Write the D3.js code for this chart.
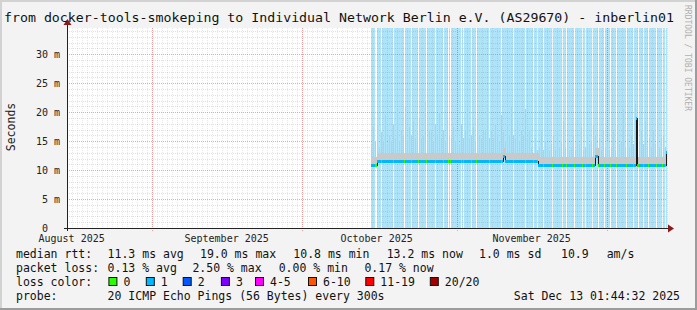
<!DOCTYPE html>
<html>
<head>
<meta charset="utf-8">
<script src="https://cdn.jsdelivr.net/npm/d3@7/dist/d3.min.js"></script>
<style>
  body { margin: 0; background: #f3f3f3; }
  svg text { font-family: "DejaVu Sans Mono", monospace; }
</style>
</head>
<body>
<svg id="chart" width="697" height="310"></svg>
<script>
const title = "from docker-tools-smokeping to Individual Network Berlin e.V. (AS29670) - inberlin01";
const graphStart = "2025-08-15T01:44:32Z";
const graphEnd = "2025-12-13T01:44:32Z";

// months: label sits in the middle of the month, red grid line on the 1st
const monthStarts = ["2025-08-01", "2025-09-01", "2025-10-01", "2025-11-01", "2025-12-01"];
const monthNames = ["August 2025", "September 2025", "October 2025", "November 2025", ""];

const yTicks = [0, 5, 10, 15, 20, 25, 30];
const yLabels = ["0\u00a0\u00a0", "5 m", "10 m", "15 m", "20 m", "25 m", "30 m"];
const yMax = 34.54;

// samples: one every 4.8 hours
const sampleStart = "2025-10-14T21:00:00Z";
const sampleHours = 4.8;
const sampleCount = 296;

// median rtt levels in ms: [first sample, last sample, value]
const medianRuns = [
  [0, 5, 10.8], [6, 131, 11.5], [132, 133, 12.4], [134, 166, 11.5],
  [167, 223, 10.9], [224, 226, 12.5], [227, 264, 10.9], [265, 265, 19.0],
  [266, 294, 10.9], [295, 295, 13.2]
];

// samples with 0 loss (the rest had 1/20 lost)
const zeroLoss = [4, 5, 10, 22, 33, 40, 47, 55, 64, 72, 77, 79, 90, 92, 100, 105, 118, 130, 142,
  154, 162, 166, 172, 181, 191, 195, 203, 211, 214, 221, 227, 233, 239, 245, 255, 262, 267, 272,
  277, 285, 291, 294];

// top of the smoke, ms, one value per two samples
const smokeTop = [
  14.5,17.5,15,18,14,16.5,15,19.5,14.5,16,
  15,18,15.5,20.5,15,17,16,21,15,17.5,
  16,18.5,15.5,17,19,15.5,16,22,15,17,
  16.5,15,18,16,20,15.5,17,15,18.5,16,
  15.5,17.5,15,16.5,14.5,18,15.5,17,20.5,15.5,
  16,17.5,15,19,16,15.5,17,16.5,21.5,15.5,
  17,15.5,18,16,15,19.5,16.5,15,18,16,
  21,16,15.5,18.5,15,17,16,20.5,15.5,17,
  14,13,15.5,13.5,14,16.5,13.5,15,14,13.5,
  14.5,16,13.5,17,14,15,18.5,14,15.5,13.5,
  14,16,13.5,15,14.5,17.5,13.5,14,16,14.5,
  15,18,16,14,15.5,13.5,17,14,15,13.5,
  14,16.5,13.5,18,14.5,15,20.5,14,15.5,14,
  16,14.5,21.5,14,15,17,14.5,18.5,14,15.5,
  14,17,14.5,19,14,15.5,16,14
];

const lossLabels = ["0", "1", "2", "3", "4-5", "6-10", "11-19", "20/20"];
const lossColors = ["#26ff00", "#00b8ff", "#0059ff", "#7e00ff", "#ff00ff", "#ff5500", "#ff0000", "#a10000"];

const statsRtt = ["11.3 ms avg", "19.0 ms max", "10.8 ms min", "13.2 ms now", "1.0 ms sd", "10.9", "am/s"];
const statsLoss = ["0.13 % avg", "2.50 % max", "0.00 % min", "0.17 % now"];
const probeText = "20 ICMP Echo Pings (56 Bytes) every 300s";
const stamp = "Sat Dec 13 01:44:32 2025";

const W = 697, H = 310;
const plotL = 67, plotR = 667, plotT = 28, plotB = 228;
const svg = d3.select("#chart");

// canvas with rrdtool shading
svg.append("rect").attr("width", W).attr("height", H).attr("fill", "#f3f3f3");
svg.append("rect").attr("width", W).attr("height", 2).attr("fill", "#d2d2d2");
svg.append("rect").attr("width", 2).attr("height", H).attr("fill", "#d2d2d2");
svg.append("rect").attr("y", H - 2).attr("width", W).attr("height", 2).attr("fill", "#9c9c9c");
svg.append("rect").attr("x", W - 2).attr("width", 2).attr("height", H).attr("fill", "#9c9c9c");

const x = d3.scaleUtc().domain([new Date(graphStart), new Date(graphEnd)]).range([plotL, plotR]);
const y = d3.scaleLinear().domain([0, yMax]).range([plotB, plotT]);

svg.append("rect").attr("x", plotL).attr("y", plotT).attr("width", plotR - plotL).attr("height", plotB - plotT).attr("fill", "#fff");

const t0 = new Date(sampleStart).getTime();
const sampleTime = i => new Date(t0 + i * sampleHours * 3600e3);
const samples = d3.range(sampleCount).map(i => {
  const run = medianRuns.find(r => i >= r[0] && i <= r[1]);
  return { i, t: sampleTime(i), t1: sampleTime(i + 1), med: run[2], loss: zeroLoss.includes(i) ? 0 : 1 };
});
const px = t => Math.round(x(t));

// loss background
svg.append("g").attr("shape-rendering", "crispEdges").selectAll("rect")
  .data(samples.filter(d => d.loss > 0))
  .enter().append("rect")
  .attr("x", d => px(d.t))
  .attr("y", plotT)
  .attr("width", d => px(d.t1) - px(d.t))
  .attr("height", plotB - plotT)
  .attr("fill", "#aee4fa");

// grid
const grid = svg.append("g").attr("shape-rendering", "crispEdges");
const minorY = d3.range(1, 35).filter(v => v % 5 !== 0);
grid.selectAll(".hmin").data(minorY).enter().append("line")
  .attr("x1", plotL).attr("x2", plotR)
  .attr("y1", d => Math.round(y(d)) + 0.5).attr("y2", d => Math.round(y(d)) + 0.5)
  .attr("stroke", "rgba(120,120,120,0.22)").attr("stroke-dasharray", "1,1");
const days = d3.utcDay.range(new Date(graphStart), new Date(graphEnd));
grid.selectAll(".vmin").data(days).enter().append("line")
  .attr("x1", d => px(d) + 0.5).attr("x2", d => px(d) + 0.5)
  .attr("y1", plotT).attr("y2", plotB)
  .attr("stroke", "rgba(120,120,120,0.16)").attr("stroke-dasharray", "1,1");
grid.selectAll(".hmaj").data(yTicks.slice(1)).enter().append("line")
  .attr("x1", plotL).attr("x2", plotR)
  .attr("y1", d => Math.round(y(d)) + 0.5).attr("y2", d => Math.round(y(d)) + 0.5)
  .attr("stroke", "rgba(235,80,80,0.5)").attr("stroke-dasharray", "1,1");
const majorX = monthStarts.map(s => new Date(s + "T00:00:00Z")).filter(d => x(d) > plotL);
grid.selectAll(".vmaj").data(majorX).enter().append("line")
  .attr("x1", d => px(d) + 0.5).attr("x2", d => px(d) + 0.5)
  .attr("y1", plotT).attr("y2", plotB + 3)
  .attr("stroke", "rgba(235,80,80,0.5)").attr("stroke-dasharray", "1,1");

// smoke: a thin solid band over the median, then one spike per pair of samples
const smoke = smokeTop.map((v, k) => ({ top: v, t: sampleTime(k * 2), t1: sampleTime(k * 2 + 2), med: samples[k * 2].med }));
const smokeG = svg.append("g").attr("shape-rendering", "crispEdges").attr("fill", "#c9c9c9");
smokeG.selectAll(".base").data(smoke).enter().append("rect")
  .attr("x", d => px(d.t))
  .attr("y", d => Math.round(y(d.med + 1.4)))
  .attr("width", d => px(d.t1) - px(d.t))
  .attr("height", d => Math.round(y(d.med - 0.3)) - Math.round(y(d.med + 1.4)));
smokeG.selectAll(".spike").data(smoke).enter().append("rect")
  .attr("x", d => px(d.t))
  .attr("y", d => Math.round(y(d.top)))
  .attr("width", 1)
  .attr("height", d => Math.max(1, Math.round(y(d.med)) - Math.round(y(d.top))));

// median: dark step line + loss coloured marks
const medLine = d3.line().x(d => px(d.t)).y(d => Math.round(y(d.med)) + 0.5).curve(d3.curveStepAfter);
svg.append("path").datum(samples.concat([{ t: sampleTime(sampleCount), med: samples[sampleCount - 1].med }]))
  .attr("d", medLine).attr("fill", "none").attr("stroke", "#1a1a1a").attr("stroke-width", 1)
  .attr("shape-rendering", "crispEdges");
svg.append("g").attr("shape-rendering", "crispEdges").selectAll("rect")
  .data(samples)
  .enter().append("rect")
  .attr("x", d => px(d.t))
  .attr("y", d => Math.round(y(d.med)) - 1)
  .attr("width", d => px(d.t1) - px(d.t))
  .attr("height", 3)
  .attr("fill", d => lossColors[d.loss]);

// axes
const axes = svg.append("g").attr("shape-rendering", "crispEdges");
axes.append("line").attr("x1", plotL - 3).attr("x2", plotR + 2).attr("y1", plotB + 0.5).attr("y2", plotB + 0.5).attr("stroke", "#222");
axes.append("line").attr("x1", plotL + 0.5).attr("x2", plotL + 0.5).attr("y1", plotB + 3).attr("y2", plotT - 4).attr("stroke", "#222");
svg.append("path").attr("d", `M${plotR + 1},${plotB - 3.5}L${plotR + 7},${plotB + 0.5}L${plotR + 1},${plotB + 4.5}Z`).attr("fill", "#8b1a1a");
svg.append("path").attr("d", `M${plotL - 3.5},${plotT - 3}L${plotL + 0.5},${plotT - 9}L${plotL + 4.5},${plotT - 3}Z`).attr("fill", "#8b1a1a");

// y labels
svg.append("g").selectAll("text").data(yTicks).enter().append("text")
  .attr("x", 60).attr("y", d => y(d) + 3.5)
  .attr("text-anchor", "end").attr("font-size", 10).attr("fill", "#222")
  .text((d, i) => yLabels[i]);

// x labels, centred in the month
svg.append("g").selectAll("text").data(monthStarts.slice(0, 4)).enter().append("text")
  .attr("x", d => x(d3.utcDay.offset(new Date(d + "T00:00:00Z"), 15)))
  .attr("y", 242).attr("text-anchor", "middle").attr("font-size", 10).attr("fill", "#222")
  .text((d, i) => monthNames[i]);

// title and axis title
svg.append("text").attr("x", 4).attr("y", 22)
  .attr("font-size", 13).attr("textLength", 670).attr("lengthAdjust", "spacingAndGlyphs")
  .attr("fill", "#111").text(title);
svg.append("text").attr("transform", "translate(15,127) rotate(-90)").attr("text-anchor", "middle")
  .attr("font-size", 11.5).attr("fill", "#222").text("Seconds");
svg.append("text").attr("transform", "translate(685,58) rotate(90)").attr("text-anchor", "middle")
  .attr("font-size", 8).attr("fill", "#b0b0b0").text("RRDTOOL / TOBI OETIKER");

// legend
const lg = svg.append("g").attr("font-size", 11.5).attr("fill", "#111");
const rows = [258, 272, 286, 300];
lg.append("text").attr("x", 16).attr("y", rows[0]).text("median rtt:");
const rttX = [107.6, 200, 293.3, 386.7, 479, 561, 606.7];
statsRtt.forEach((s, i) => lg.append("text").attr("x", rttX[i]).attr("y", rows[0]).text(s));
lg.append("text").attr("x", 16).attr("y", rows[1]).text("packet loss:");
const lossX = [107.6, 192.4, 278.7, 364.4];
statsLoss.forEach((s, i) => lg.append("text").attr("x", lossX[i]).attr("y", rows[1]).text(s));
lg.append("text").attr("x", 16).attr("y", rows[2]).text("loss color:");
const boxX = [108.4, 145.8, 182.7, 220.9, 255, 308, 365.3, 429.8];
lossLabels.forEach((s, i) => {
  lg.append("rect").attr("x", boxX[i] + 0.5).attr("y", rows[2] - 8.5).attr("width", 8).attr("height", 8)
    .attr("fill", lossColors[i]).attr("stroke", "#111").attr("stroke-width", 1);
  lg.append("text").attr("x", boxX[i] + 15).attr("y", rows[2]).text(s);
});
lg.append("text").attr("x", 16).attr("y", rows[3]).text("probe:");
lg.append("text").attr("x", 107.6).attr("y", rows[3]).text(probeText);
lg.append("text").attr("x", 680).attr("y", rows[3]).attr("text-anchor", "end").text(stamp);
</script>
</body>
</html>
